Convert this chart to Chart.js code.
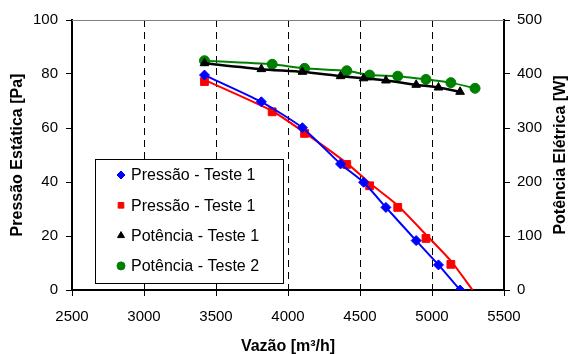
<!DOCTYPE html>
<html>
<head>
<meta charset="utf-8">
<script src="https://cdn.jsdelivr.net/npm/chart.js@4.4.1/dist/chart.umd.min.js"></script>
<style>
html, body { margin: 0; padding: 0; background: #fff; }
#wrap { width: 568px; height: 354px; }
</style>
</head>
<body>
<div id="wrap"><canvas id="chart"></canvas></div>
<script>
// Teste 1 (blue diamonds / black triangles share the same flow values)
const vazaoTeste1 = [3420, 3815, 4100, 4365, 4525, 4680, 4890, 5045, 5195];
const pressaoTeste1 = [79.6, 69.7, 60.1, 46.7, 39.9, 30.6, 18.3, 9.3, 0];
const potenciaTeste1 = [420, 409, 404, 396, 392, 388, 380, 375, 367];

// second run (red squares / green circles)
const vazaoTeste2 = [3420, 3890, 4115, 4408, 4567, 4762, 4958, 5131];
const pressaoTeste2 = [77.2, 66.0, 58.0, 46.5, 38.6, 30.6, 19.1, 9.5];
const vazaoPotencia2 = [3420, 3890, 4115, 4408, 4567, 4762, 4958, 5131, 5299];
const potenciaTeste2 = [424.6, 418, 410.5, 406, 398, 396, 390, 384, 373.5];

// red trend line (it runs on past the last square down to 0)
const vazaoLinha2 = [3420, 3890, 4115, 4408, 4567, 4762, 4958, 5131, 5282];
const pressaoLinha2 = [77.8, 66.3, 58.3, 47.0, 39.6, 31.3, 20.5, 10.8, 0];

const xTicks = [2500, 3000, 3500, 4000, 4500, 5000, 5500];
const yTicks = [0, 20, 40, 60, 80, 100];
const y2Ticks = [0, 100, 200, 300, 400, 500];

const legendItems = [
    { text: 'Pressão - Teste 1', style: 'rectRot', radius: 5, color: '#0000ff' },
    { text: 'Pressão - Teste 1', style: 'rect', radius: 5, color: '#ff0000' },
    { text: 'Potência - Teste 1', style: 'triangle', radius: 5, color: '#000000' },
    { text: 'Potência - Teste 2', style: 'circle', radius: 5, color: '#008000' }
];

const FONT = "'Liberation Sans', Arial, sans-serif";

function pairs(xs, ys) {
    return xs.map((x, i) => ({ x: x, y: ys[i] }));
}

// Axis titles, top frame line and the boxed legend
const decorPlugin = {
    id: 'decor',
    afterDraw(chart) {
        const ctx = chart.ctx;
        const area = chart.chartArea;
        ctx.save();

        // top border of the plot
        ctx.strokeStyle = '#808080';
        ctx.lineWidth = 1;
        ctx.beginPath();
        ctx.moveTo(area.left, area.top + 0.5);
        ctx.lineTo(area.right, area.top + 0.5);
        ctx.stroke();

        // axis titles
        ctx.fillStyle = '#000';
        ctx.font = 'bold 16px ' + FONT;
        ctx.textAlign = 'center';
        ctx.textBaseline = 'alphabetic';
        ctx.fillText('Vazão [m³/h]', (area.left + area.right) / 2, 351);

        const midY = (area.top + area.bottom) / 2;
        ctx.save();
        ctx.translate(22, midY);
        ctx.rotate(-Math.PI / 2);
        ctx.fillText('Pressão Estática [Pa]', 0, 0);
        ctx.restore();

        ctx.save();
        ctx.translate(565, midY);
        ctx.rotate(-Math.PI / 2);
        ctx.fillText('Potência Elétrica [W]', 0, 0);
        ctx.restore();

        // legend box
        const bx = 95, by = 159, bw = 188, bh = 124;
        ctx.fillStyle = '#fff';
        ctx.fillRect(bx, by, bw, bh);
        ctx.strokeStyle = '#000';
        ctx.lineWidth = 1;
        ctx.strokeRect(bx + 0.5, by + 0.5, bw, bh);

        ctx.font = '16px ' + FONT;
        ctx.textAlign = 'left';
        ctx.textBaseline = 'middle';
        legendItems.forEach((item, i) => {
            const y = 175 + i * 30.3;
            ctx.fillStyle = item.color;
            ctx.strokeStyle = item.color;
            ctx.lineWidth = 1;
            Chart.helpers.drawPoint(ctx, {
                pointStyle: item.style,
                radius: item.radius - 1,
                rotation: 0,
                borderWidth: 1
            }, 121, y);
            ctx.fillStyle = '#000';
            ctx.fillText(item.text, 131, y + 1);
        });

        ctx.restore();
    }
};

const tickFont = { family: FONT, size: 15 };
const plain = (v) => String(v);

new Chart(document.getElementById('chart'), {
    type: 'scatter',
    data: {
        datasets: [
            {
                label: 'Pressão - Teste 1',
                data: pairs(vazaoTeste1, pressaoTeste1),
                yAxisID: 'y',
                showLine: true,
                tension: 0.2,
                borderColor: '#0000ff',
                backgroundColor: '#0000ff',
                borderWidth: 2,
                pointStyle: 'rectRot',
                pointRadius: 5,
                pointBorderWidth: 1
            },
            {
                label: 'Pressão - Teste 1 (linha)',
                data: pairs(vazaoLinha2, pressaoLinha2),
                yAxisID: 'y',
                showLine: true,
                tension: 0.2,
                borderColor: '#ff0000',
                borderWidth: 2,
                pointRadius: 0
            },
            {
                label: 'Pressão - Teste 1',
                data: pairs(vazaoTeste2, pressaoTeste2),
                yAxisID: 'y',
                showLine: false,
                borderColor: '#ff0000',
                backgroundColor: '#ff0000',
                pointStyle: 'rect',
                pointRadius: 5.5,
                pointBorderWidth: 1
            },
            {
                label: 'Potência - Teste 1',
                data: pairs(vazaoTeste1, potenciaTeste1),
                yAxisID: 'y2',
                showLine: true,
                tension: 0.2,
                borderColor: '#000000',
                backgroundColor: '#000000',
                borderWidth: 2.5,
                pointStyle: 'triangle',
                pointRadius: 5,
                pointBorderWidth: 1
            },
            {
                label: 'Potência - Teste 2',
                data: pairs(vazaoPotencia2, potenciaTeste2),
                yAxisID: 'y2',
                showLine: true,
                tension: 0.2,
                borderColor: '#008000',
                backgroundColor: '#008000',
                borderWidth: 2,
                pointStyle: 'circle',
                pointRadius: 5,
                pointBorderWidth: 1
            }
        ]
    },
    options: {
        responsive: true,
        maintainAspectRatio: false,
        animation: false,
        layout: { padding: { top: 20, left: 0, right: 0, bottom: 0 } },
        plugins: {
            legend: { display: false },
            tooltip: { enabled: false }
        },
        scales: {
            x: {
                type: 'linear',
                position: 'bottom',
                min: xTicks[0],
                max: xTicks[xTicks.length - 1],
                afterBuildTicks: (scale) => { scale.ticks = xTicks.map(v => ({ value: v })); },
                afterFit: (scale) => { scale.height = 64; },
                ticks: { font: tickFont, color: '#000', padding: 12, maxRotation: 0, callback: plain },
                grid: {
                    color: (c) => (c.tick && (c.tick.value === 2500 || c.tick.value === 5500)) ? 'rgba(0,0,0,0)' : '#000',
                    lineWidth: 1,
                    tickBorderDash: [],
                    tickColor: '#000',
                    tickLength: 6
                },
                border: { color: '#000', width: 2, dash: [7, 5] }
            },
            y: {
                position: 'left',
                min: 0,
                max: 100,
                afterBuildTicks: (scale) => { scale.ticks = yTicks.map(v => ({ value: v })); },
                afterFit: (scale) => { scale.width = 72; },
                ticks: { font: tickFont, color: '#000', padding: 8, callback: plain },
                grid: { drawOnChartArea: false, color: '#000', tickLength: 6 },
                border: { color: '#000', width: 2 }
            },
            y2: {
                position: 'right',
                min: 0,
                max: 500,
                afterBuildTicks: (scale) => { scale.ticks = y2Ticks.map(v => ({ value: v })); },
                afterFit: (scale) => { scale.width = 64; },
                ticks: { font: tickFont, color: '#000', padding: 7, callback: plain },
                grid: { drawOnChartArea: false, color: '#000', tickLength: 6 },
                border: { color: '#000', width: 2 }
            }
        }
    },
    plugins: [decorPlugin]
});
</script>
</body>
</html>
